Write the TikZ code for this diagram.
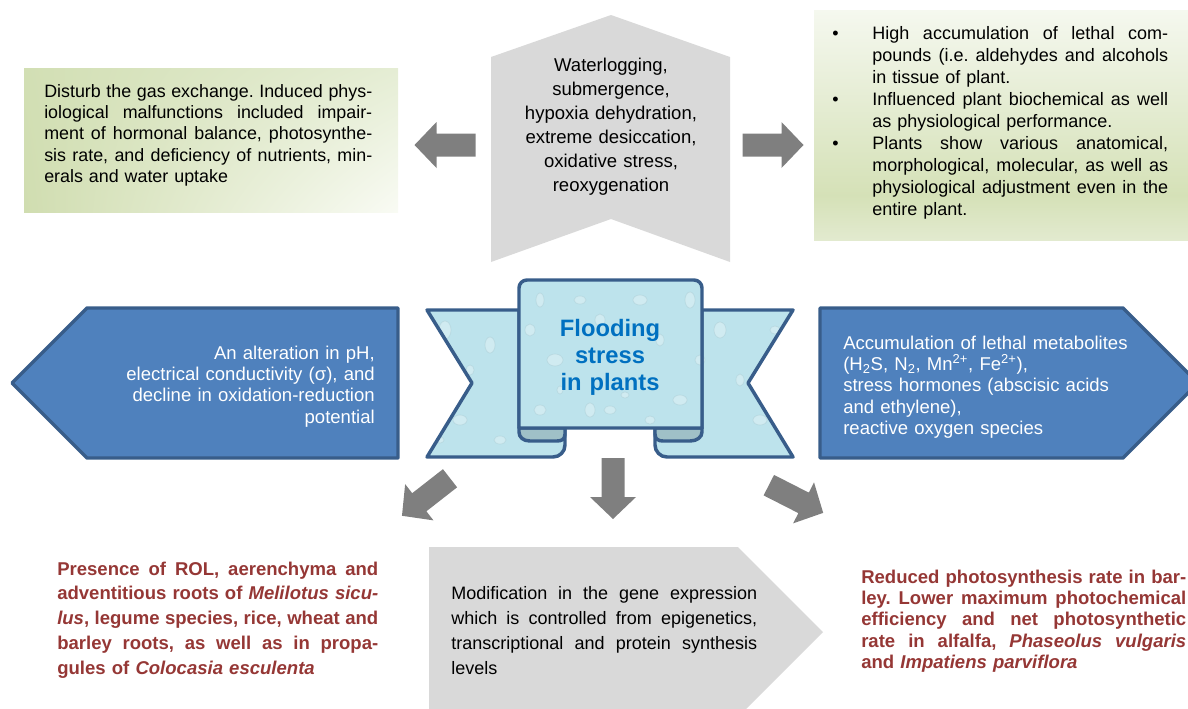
\documentclass[tikz,border=0pt]{standalone}
\usepackage{fontspec}
\setmainfont{Liberation Sans}
\usetikzlibrary{shadings}
\definecolor{bluefill}{HTML}{4F81BD}
\definecolor{blueedge}{HTML}{385D8A}
\definecolor{panelgray}{HTML}{D9D9D9}
\definecolor{arrowgray}{HTML}{7F7F7F}
\definecolor{redtext}{HTML}{953735}
\definecolor{floodblue}{HTML}{0070C0}
\definecolor{water}{HTML}{BDE3EC}
\definecolor{waterdark}{HTML}{9FC0C7}
\definecolor{gUL}{HTML}{D2DFB4}
\definecolor{gLL}{HTML}{D0DDB0}
\definecolor{gUR}{HTML}{E5EDD4}
\definecolor{gLR}{HTML}{F9FBF4}
\definecolor{gTop}{HTML}{F5F8EF}
\definecolor{gMid}{HTML}{D5E1B7}
\definecolor{gBot}{HTML}{E2EACF}
\newcommand{\jl}[1]{\makebox[\hsize][s]{\spaceskip=0.278em plus 1fil\xspaceskip=\spaceskip #1}\par}
\newcommand{\bul}{\llap{\makebox[30pt][l]{•}}}
\newcommand{\bubbles}{%
  \foreach \bx/\by/\ba/\bb in {445/330/6/9,460/420/7/5,490/345/5/8,500/440/6/4,540/300/4/7,555/360/8/6,580/300/6/4,590/410/5/7,640/300/7/5,660/340/4/6,690/300/5/8,680/400/7/5,540/410/6/5,650/420/5/4,720/330/6/8,760/420/7/5,740/380/4/6,775/330/5/4,610/410/6/4,530/330/5/6,700/360/5/5,470/370/4/5,625/395/4/3,560/390/3/4,440/440/4/3,600/320/5/6,575/435/4/3,770/370/3/5}{%
    \fill[white,opacity=0.3] (\bx,\by) ellipse [x radius=\ba, y radius=\bb];
    \draw[waterdark,opacity=0.3,line width=0.6pt] (\bx,\by) ellipse [x radius=\ba, y radius=\bb];
  }}
\tikzset{
  blockarrow/.pic={\fill[arrowgray] (-30.5,-11.5) -- (8.5,-11.5) -- (8.5,-23) -- (30.5,0) -- (8.5,23) -- (8.5,11.5) -- (-30.5,11.5) -- cycle;},
  bluebox/.style={fill=bluefill, draw=blueedge, line width=2.6pt, line join=round},
  ribbon/.style={fill=water, draw=blueedge, line width=2.6pt, line join=round, path picture={\bubbles}},
  foldpart/.style={fill=waterdark, draw=blueedge, line width=2.6pt, line join=round},
  graypanel/.style={fill=panelgray},
  txt/.style={inner sep=0pt, anchor=base west},
}
\begin{document}
\frenchspacing
\begin{tikzpicture}[x=0.75pt,y=-0.75pt]
\useasboundingbox (0,0) rectangle (1188,708);
\clip (0,0) rectangle (1188,708);

% green boxes
\shade[upper left=gUL, lower left=gLL, upper right=gUR, lower right=gLR] (24,68) rectangle (398,212);
\shade[top color=gTop, bottom color=gMid] (814,10) rectangle (1188,196);
\shade[top color=gMid, bottom color=gBot] (814,195) rectangle (1188,240);

% top chevron
\path[graypanel] (491,57) -- (611,15) -- (730,57) -- (730,262) -- (611,219) -- (491,262) -- cycle;

% blue pentagons
\path[bluebox] (12,383) -- (87,308) -- (398,308) -- (398,458) -- (87,458) -- cycle;
\path[bluebox] (820,308) -- (1123,308) -- (1198,383) -- (1123,458) -- (820,458) -- cycle;

% bottom gray pentagon
\path[graypanel] (429,547) -- (738,547) -- (823,632) -- (738,717) -- (429,717) -- cycle;

% ribbon
\path[ribbon] (427,310) -- (519,310) -- (519,428) -- (565,428) -- (565,445) arc[start angle=0,end angle=90,radius=12] -- (427,457) -- (472,383) -- cycle;
\path[ribbon] (793,310) -- (702,310) -- (702,428) -- (655,428) -- (655,445) arc[start angle=180,end angle=90,radius=12] -- (793,457) -- (748,383) -- cycle;
\path[foldpart] (519,428) -- (565,428) -- (565,434) .. controls (565,439) and (562,441) .. (557,441) -- (530,441) .. controls (523,441) and (519,437) .. (519,432) -- cycle;
\path[foldpart] (702,428) -- (655,428) -- (655,434) .. controls (655,439) and (658,441) .. (663,441) -- (690,441) .. controls (697,441) and (702,437) .. (702,432) -- cycle;
\path[ribbon] (519,428) -- (519,288) arc[start angle=180,end angle=270,radius=8] -- (694,280) arc[start angle=270,end angle=360,radius=8] -- (702,428) -- cycle;

% block arrows
\pic[rotate=180] (arrL) at (445,145) {blockarrow};
\pic (arrR) at (773,145) {blockarrow};
\pic[rotate=-90] (arrD) at (613,488.5) {blockarrow};
\pic[rotate=218] (arrDL) at (426,497) {blockarrow};
\pic[rotate=-27] (arrDR) at (796,499) {blockarrow};

% texts
\node[txt, text width=246pt, font={\fontsize{13.4pt}{16.1pt}\selectfont}] (gas) at (44,97) {%
\jl{Disturb the gas exchange. Induced phys-}
\jl{iological malfunctions included impair-}
\jl{ment of hormonal balance, photosynthe-}
\jl{sis rate, and deficiency of nutrients, min-}
erals and water uptake\par};

\node[inner sep=0pt, anchor=base, text width=170pt, align=center, font={\fontsize{13.9pt}{18pt}\selectfont}] (causes) at (611,71) {%
Waterlogging,\\ submergence,\\ hypoxia dehydration,\\ extreme desiccation,\\ oxidative stress,\\ reoxygenation};

\node[txt, text width=222pt, font={\fontsize{13.5pt}{16.5pt}\selectfont}] (lethal) at (872,39) {%
\jl{\bul High accumulation of lethal com-}
\jl{pounds (i.e. aldehydes and alcohols}
in tissue of plant.\par
\jl{\bul Influenced plant biochemical as well}
as physiological performance.\par
\jl{\bul Plants show various anatomical,}
\jl{morphological, molecular, as well as}
\jl{physiological adjustment even in the}
entire plant.\par};

\node[inner sep=0pt, anchor=base east, text width=220pt, align=right, text=white, font={\fontsize{13.9pt}{16.1pt}\selectfont}] (ph) at (375,359) {%
An alteration in pH,\\ electrical conductivity (σ), and\\ decline in oxidation-reduction\\ potential};

\node[txt, text width=240pt, align=left, text=white, font={\fontsize{13.9pt}{16pt}\selectfont}] (metab) at (843,349) {%
Accumulation of lethal metabolites\\
(H\textsubscript{2}S, N\textsubscript{2}, Mn\textsuperscript{2+}, Fe\textsuperscript{2+}),\\
stress hormones (abscisic acids\\
and ethylene),\\
reactive oxygen species};

\node[inner sep=0pt, anchor=base, text width=130pt, align=center, text=floodblue, font={\bfseries\fontsize{17.8pt}{20.6pt}\selectfont}] (title) at (610,336) {%
Flooding\\ stress\\ in plants};

\node[txt, text width=229.5pt, font={\fontsize{13.5pt}{18.9pt}\selectfont}] (gene) at (451,599) {%
\jl{Modification in the gene expression}
\jl{which is controlled from epigenetics,}
\jl{transcriptional and protein synthesis}
levels\par};

\node[txt, text width=240.75pt, text=redtext, font={\bfseries\fontsize{13.9pt}{18.6pt}\selectfont}] (rol) at (57,575) {%
\jl{Presence of ROL, aerenchyma and}
\jl{adventitious roots of \textit{Melilotus sicu-}}
\jl{\textit{lus}, legume species, rice, wheat and}
\jl{barley roots, as well as in propa-}
gules of \textit{Colocasia esculenta}\par};

\node[txt, text width=243.75pt, text=redtext, font={\bfseries\fontsize{13.9pt}{16.1pt}\selectfont}] (photo) at (861,583) {%
\jl{Reduced photosynthesis rate in bar-}
\jl{ley. Lower maximum photochemical}
\jl{efficiency and net photosynthetic}
\jl{rate in alfalfa, \textit{Phaseolus vulgaris}}
and \textit{Impatiens parviflora}\par};
\end{tikzpicture}
\end{document}
